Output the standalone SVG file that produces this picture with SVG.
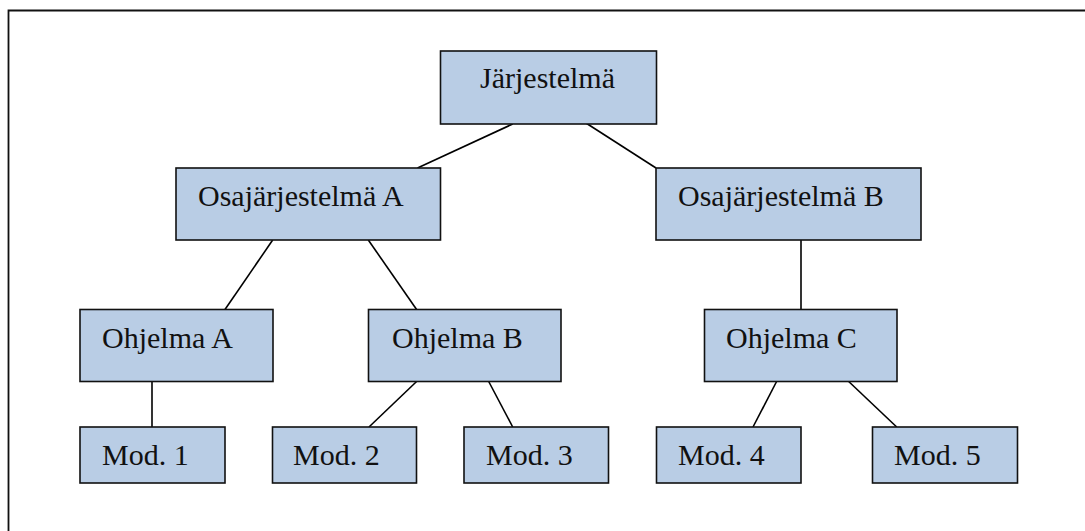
<svg xmlns="http://www.w3.org/2000/svg" width="1085" height="531" viewBox="0 0 1085 531">
<style>
.box{fill:#B9CDE5;stroke:#111;stroke-width:1.6}
.lbl{font-family:"Liberation Serif","DejaVu Serif",serif;font-size:30px;fill:#111}
.con line{stroke:#000;stroke-width:1.6}
</style>
<rect width="1085" height="531" fill="#fff"/>
<path d="M8.5,531 V10.5 H1085" fill="none" stroke="#111" stroke-width="1.8"/>
<g id="connectors" class="con">
<line x1="512.7" y1="124" x2="417.5" y2="168"/>
<line x1="584.4" y1="122" x2="656" y2="168"/>
<line x1="272.7" y1="240" x2="225" y2="309.5"/>
<line x1="368.3" y1="240" x2="416.6" y2="309.5"/>
<line x1="801" y1="240" x2="801" y2="309.5"/>
<line x1="152" y1="381.5" x2="152" y2="427"/>
<line x1="416.6" y1="381.5" x2="369" y2="427"/>
<line x1="488.7" y1="381.5" x2="512.7" y2="427"/>
<line x1="776.6" y1="381.5" x2="753" y2="427"/>
<line x1="848.7" y1="381.5" x2="896.7" y2="427"/>
</g>
<g id="jarjestelma"><rect class="box" x="440.5" y="51" width="216" height="73"/><text class="lbl" x="480" y="88">Järjestelmä</text></g>
<g id="osaA"><rect class="box" x="176" y="168" width="264.5" height="72"/><text class="lbl" x="198" y="206">Osajärjestelmä A</text></g>
<g id="osaB"><rect class="box" x="656" y="168" width="265" height="72"/><text class="lbl" x="678" y="206">Osajärjestelmä B</text></g>
<g id="ohjA"><rect class="box" x="80" y="309.5" width="193" height="72"/><text class="lbl" x="102" y="348">Ohjelma A</text></g>
<g id="ohjB"><rect class="box" x="368.5" y="309.5" width="192.5" height="72"/><text class="lbl" x="392" y="348">Ohjelma B</text></g>
<g id="ohjC"><rect class="box" x="704.5" y="309.5" width="192.5" height="72"/><text class="lbl" x="726" y="348">Ohjelma C</text></g>
<g id="mod1"><rect class="box" x="80" y="427" width="145" height="56"/><text class="lbl" x="102" y="465">Mod. 1</text></g>
<g id="mod2"><rect class="box" x="272.5" y="427" width="144" height="56"/><text class="lbl" x="293" y="465">Mod. 2</text></g>
<g id="mod3"><rect class="box" x="464" y="427" width="144.5" height="56"/><text class="lbl" x="486" y="465">Mod. 3</text></g>
<g id="mod4"><rect class="box" x="656.5" y="427" width="144.5" height="56"/><text class="lbl" x="678" y="465">Mod. 4</text></g>
<g id="mod5"><rect class="box" x="872.5" y="427" width="145" height="56"/><text class="lbl" x="894" y="465">Mod. 5</text></g>
</svg>
